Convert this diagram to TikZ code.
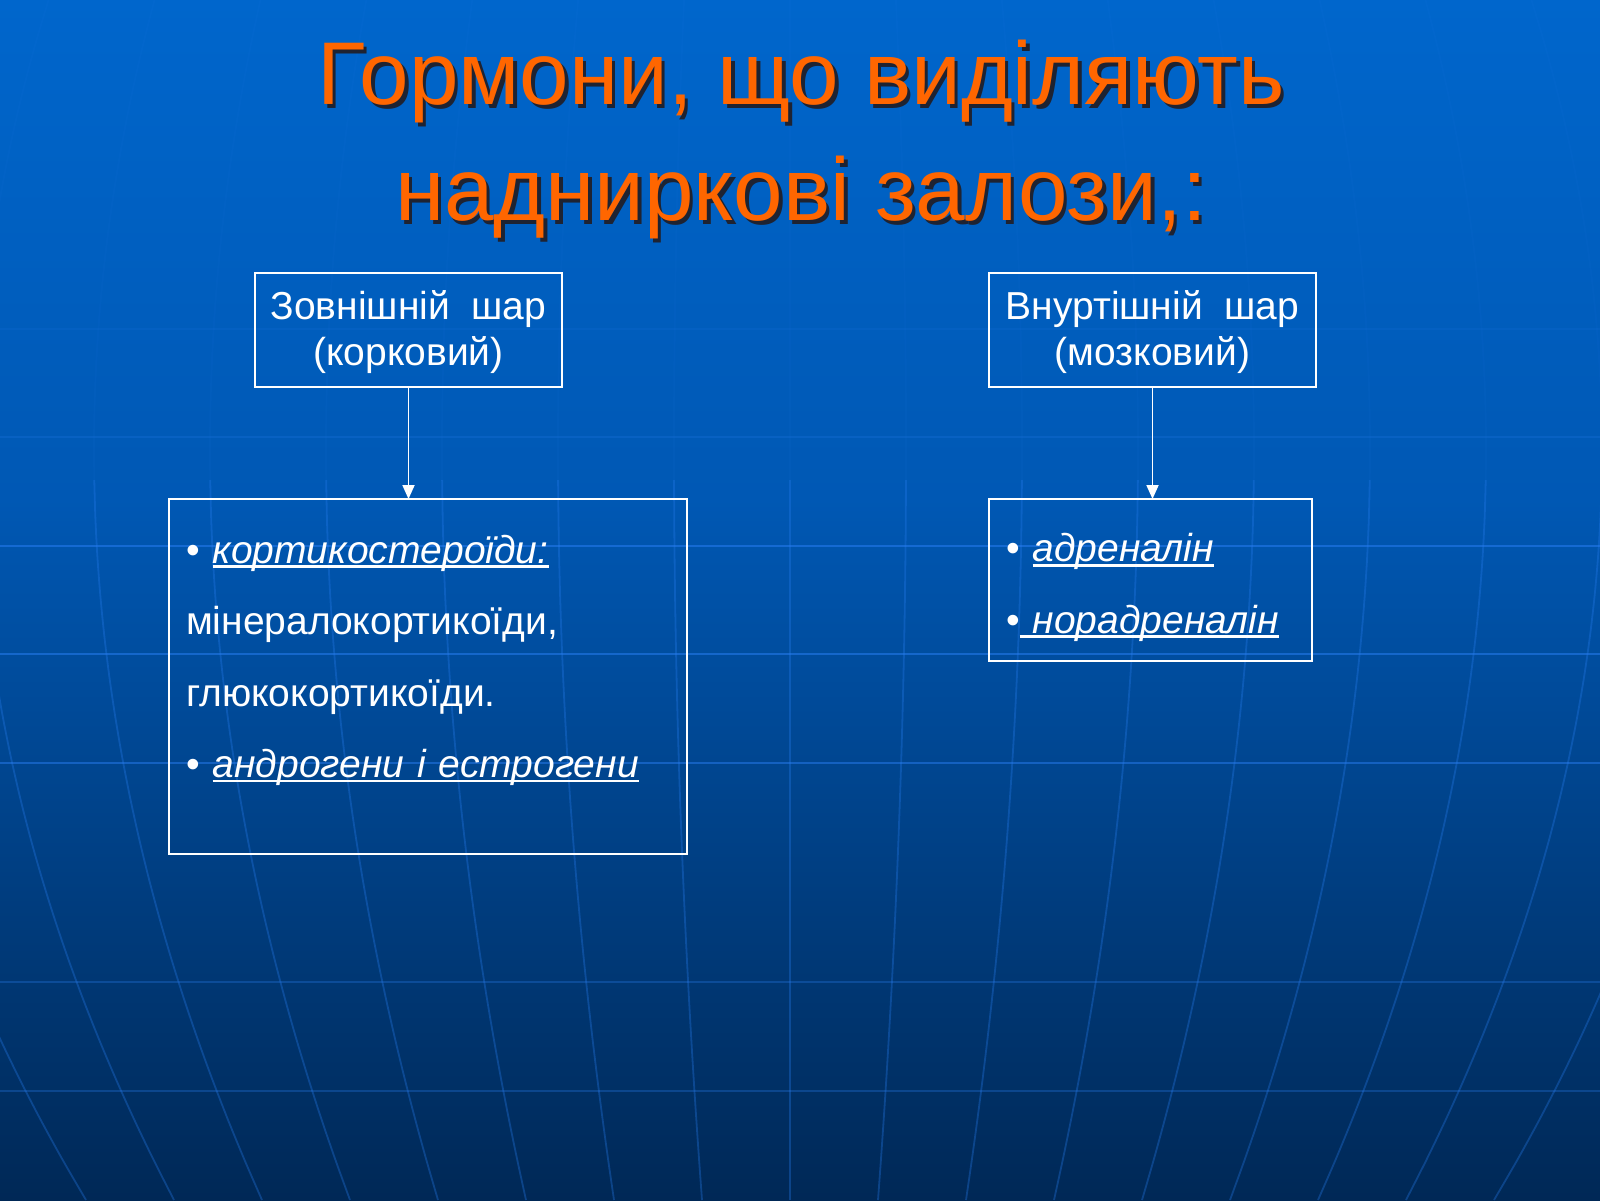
\documentclass[tikz,border=0pt]{standalone}
\usepackage{fontspec}
\setmainfont{Liberation Sans}
\usetikzlibrary{arrows.meta}
\definecolor{slidetop}{RGB}{0,102,204}
\definecolor{slidemid}{RGB}{0,88,180}
\definecolor{slidebot}{RGB}{0,40,86}
\definecolor{gridblue}{RGB}{40,125,240}
\definecolor{titleorange}{RGB}{255,102,0}
\definecolor{titleshade}{RGB}{30,35,50}
\newsavebox{\ulbox}
\newcommand{\shadowed}[1]{\rlap{\kern3.5pt\raisebox{-3.5pt}{\textcolor{titleshade}{#1}}}#1}
\newcommand{\undl}[1]{\sbox{\ulbox}{#1}\rlap{\rule[-0.12em]{\wd\ulbox}{0.07em}}\usebox{\ulbox}}
\tikzset{
    title/.style={
        text=titleorange,
        align=center,
        inner sep=0pt,
        font=\fontsize{89}{116}\selectfont},
    layer/.style={
        draw=white,
        line width=2pt,
        text=white,
        align=center,
        minimum height=114pt,
        inner sep=0pt,
        outer sep=0pt,
        font=\fontsize{39}{46}\selectfont},
    list/.style={
        draw=white,
        line width=2pt,
        text=white,
        align=left,
        inner xsep=17pt,
        inner ysep=0pt,
        outer sep=0pt,
        font=\fontsize{39}{71.5}\selectfont},
    every edge/.style={
        draw=white,
        ->,>={Triangle[width=12pt,length=14pt]},
        line width=1.8pt}}

\begin{document}
\begin{tikzpicture}[x=1pt,y=-1pt]
        % slide background
        \useasboundingbox (0,0) rectangle (1600,1200);
        \shade[top color=slidetop, bottom color=slidemid] (0,0) rectangle (1600,500);
        \shade[top color=slidemid, bottom color=slidebot] (0,499) rectangle (1600,1200);
        \begin{scope}
            \clip (0,0) rectangle (1600,1200);
            \foreach \y/\o in {329/.12,437/.2,546/.55,654/.55,763/.5,982/.3,1091/.3}
                \draw[gridblue, line width=2.5pt, opacity=\o] (0,\y) -- (1600,\y);
            \foreach \k in {-8,...,8}{
                \draw[gridblue, line width=1.8pt, opacity=.06] plot[smooth, domain=0:480, samples=13] ({790+\k*(116-28*((\x-450)/750)^2)},\x);
                \draw[gridblue, line width=1.8pt, opacity=.32] plot[smooth, domain=480:1200, samples=19] ({790+\k*(116-28*((\x-450)/750)^2)},\x);
            }
        \end{scope}

        \node[title,anchor=north] (title) at (801,40) {\shadowed{Гормони, що виділяють}\\\shadowed{наднирковi залози,:}};

        \node[layer,minimum width=307pt] (c1) at (408.5,329.5) {Зовнішній~~шар\rule{0pt}{35pt}\\(корковий)};
        \node[layer,minimum width=327pt] (m1) at (1152.5,329.5) {Внуртішній~~шар\rule{0pt}{35pt}\\(мозковий)};
        \node[list,anchor=north west,text width=484pt,minimum height=355pt] (c2) at (169,499)
            {•~\undl{\textit{кортикостероїди:}}\\
             мінералокортикоїди,\\
             глюкокортикоїди.\\
             •~\undl{\textit{андрогени і естрогени}}\rule[-40.5pt]{0pt}{0pt}};
        \node[list,anchor=north west,text width=289pt,minimum height=162pt] (m2) at (989,499)
            {•~\undl{\textit{адреналін}}\rule{0pt}{43.5pt}\\
             •\undl{~\textit{норадреналін}}};

        \draw (c1.south) edge[] (c1.south |- c2.north);
        \draw (m1.south) edge[] (m1.south |- m2.north);
    \end{tikzpicture}
\end{document}
